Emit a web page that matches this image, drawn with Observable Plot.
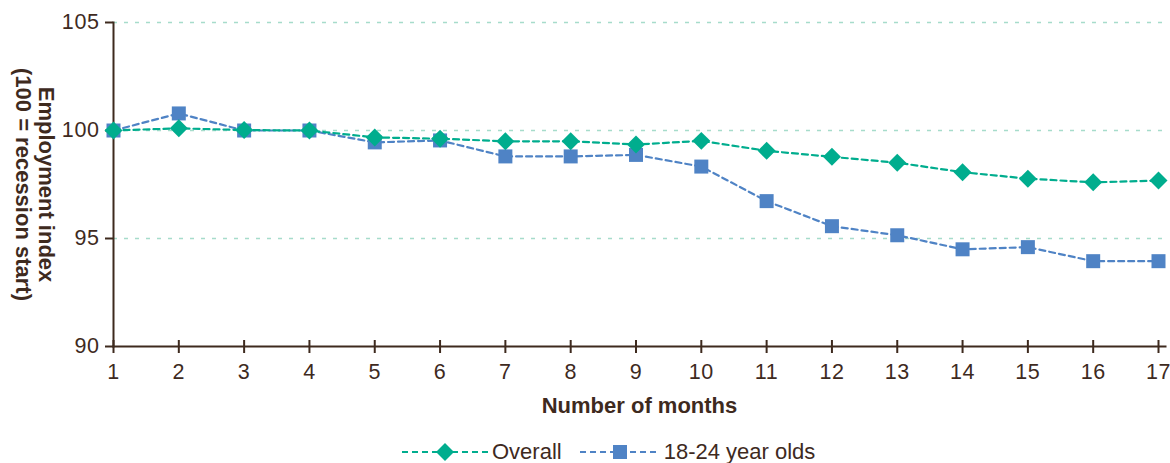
<!DOCTYPE html>
<html><head><meta charset="utf-8">
<script src="https://cdn.jsdelivr.net/npm/d3@7"></script>
<script src="https://cdn.jsdelivr.net/npm/@observablehq/plot@0.6"></script>
<style>
body{margin:0;background:#fff;font-family:"Liberation Sans",Arial,sans-serif;}
#wrap{width:1170px;height:463px;position:relative;overflow:hidden;background:#fff}
#legend{position:absolute;left:402px;top:440px;height:24px;display:flex;align-items:center;font-size:22px;line-height:22px;color:#3e2a1e;white-space:nowrap}
#legend .item{display:flex;align-items:center;margin-right:18px}
#legend svg{margin-right:4px}
#chart svg g[aria-label$="tick label"] text{font-size:21.5px !important;letter-spacing:0.6px;}
</style></head><body><div id="wrap"><div id="chart"></div><div id="legend"></div></div>
<script>
const months = [1,2,3,4,5,6,7,8,9,10,11,12,13,14,15,16,17];
const overall = [100, 100.1, 100.02, 100, 99.68, 99.62, 99.5, 99.5, 99.35, 99.52, 99.06, 98.78, 98.51, 98.07, 97.77, 97.6, 97.68];
const youth = [100, 100.79, 100, 100, 99.45, 99.54, 98.8, 98.8, 98.87, 98.33, 96.73, 95.57, 95.15, 94.5, 94.6, 93.95, 93.95];
const seriesNames = ["Overall", "18-24 year olds"];
const yTicks = [90, 95, 100, 105];
const gridValues = [95, 100, 105];
const xLabel = "Number of months";
const yLabel = "Employment index\n(100 = recession start)";

const colors = ["#00ad8e", "#4f83c5"];
const symbols = ["diamond2", "square"];
const ink = "#3e2a1e";

const youthData = months.map((m, i) => ({month: m, value: youth[i], series: seriesNames[1]}));
const overallData = months.map((m, i) => ({month: m, value: overall[i], series: seriesNames[0]}));

const chart = Plot.plot({
  width: 1170, height: 435,
  marginLeft: 113, marginRight: 5, marginTop: 22, marginBottom: 89,
  style: {fontFamily: "'Liberation Sans', Arial, sans-serif", fontSize: "22px", color: ink, background: "white"},
  x: {domain: [1, 17], insetRight: 7},
  y: {domain: [90, 105]},
  color: {domain: seriesNames, range: colors},
  symbol: {domain: seriesNames, range: symbols},
  marks: [
    Plot.ruleY(gridValues, {stroke: "#a6dccb", strokeWidth: 1.5, strokeDasharray: "4,7"}),
    Plot.axisY({ticks: yTicks, tickSize: 8, tickPadding: 6, stroke: ink, strokeWidth: 2, fill: ink, label: null, fontSize: 21.5}),
    Plot.axisX({ticks: months, tickSize: 13, dy: -6, tickFormat: () => "", stroke: ink, strokeWidth: 2, label: null}),
    Plot.axisX({ticks: months, tickSize: 0, tickPadding: 17, fill: ink, label: null, fontSize: 21.5}),
    Plot.frame({anchor: "left", stroke: ink, strokeWidth: 2}),
    Plot.frame({anchor: "bottom", stroke: ink, strokeWidth: 2}),
    Plot.text([xLabel], {frameAnchor: "bottom", dy: 66, fontWeight: "bold", fontSize: 22, fill: ink}),
    Plot.text([yLabel], {frameAnchor: "left", textAnchor: "middle", rotate: 90, dx: -79, fontWeight: "bold", fontSize: 22, lineHeight: 1.05, fill: ink}),
    Plot.line(youthData, {x: "month", y: "value", stroke: "series", strokeWidth: 2.2, strokeDasharray: "6,4"}),
    Plot.dot(youthData, {x: "month", y: "value", fill: "series", symbol: "series", r: 7.9}),
    Plot.line(overallData, {x: "month", y: "value", stroke: "series", strokeWidth: 2.2, strokeDasharray: "6,4"}),
    Plot.dot(overallData, {x: "month", y: "value", fill: "series", symbol: "series", r: 8.1})
  ]
});
document.getElementById("chart").appendChild(chart);

// Legend
const legend = d3.select("#legend");
const sampleW = [86, 80];
seriesNames.forEach((name, i) => {
  const item = legend.append("div").attr("class", "item");
  const w = sampleW[i];
  const svg = item.append("svg").attr("width", w).attr("height", 24);
  svg.append("line").attr("x1", 0).attr("x2", w).attr("y1", 12).attr("y2", 12)
    .attr("stroke", colors[i]).attr("stroke-width", 2.2).attr("stroke-dasharray", "6,4");
  const sym = symbols[i] === "diamond2" ? d3.symbolDiamond2 : d3.symbolSquare;
  const size = i === 0 ? Math.PI * 8.1 * 8.1 : Math.PI * 7.9 * 7.9;
  svg.append("path").attr("transform", `translate(${w / 2},12)`)
    .attr("d", d3.symbol(sym, size)()).attr("fill", colors[i]);
  item.append("span").text(name);
});
</script>
</body></html>
